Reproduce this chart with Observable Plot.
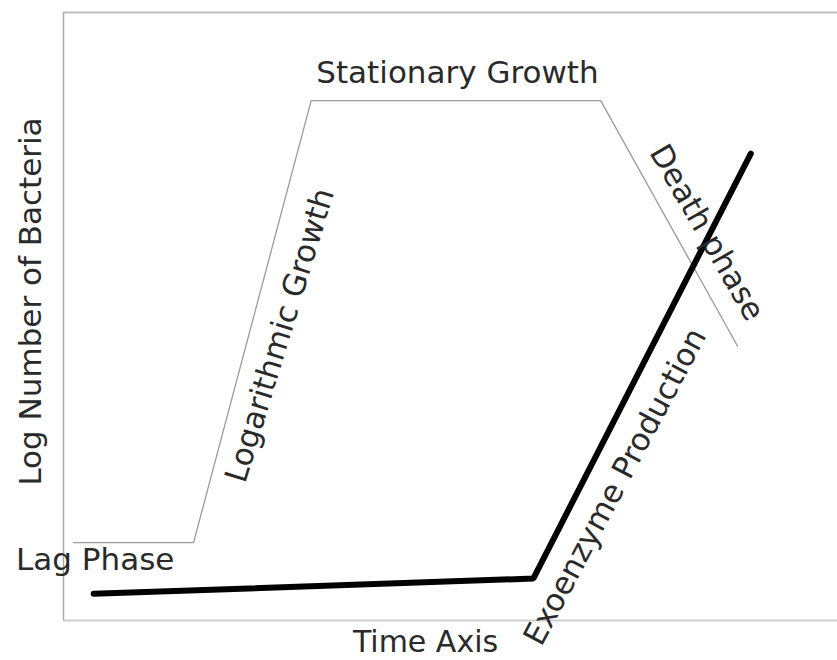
<!DOCTYPE html>
<html>
<head>
<meta charset="utf-8">
<script src="https://cdn.jsdelivr.net/npm/d3@7"></script>
<script src="https://cdn.jsdelivr.net/npm/@observablehq/plot@0.6"></script>
<style>
  html, body { margin: 0; padding: 0; background: #fff; }
  svg { display: block; overflow: visible; }
</style>
</head>
<body>
<div id="chart"></div>
<script>
// Bacterial growth curve (schematic, arbitrary units 0-100)
const growthTime = [1.3, 16.8, 32.0, 69.4, 87.1];
const growthLog  = [12.8, 12.8, 85.5, 85.5, 45.1];

// Exoenzyme production curve
const enzymeTime  = [3.9, 60.7, 88.8];
const enzymeLevel = [4.4, 6.9, 76.8];

// Phase annotations (anchored in data units)
const phaseNames = ["Lag Phase", "Logarithmic Growth", "Stationary Growth", "Death phase", "Exoenzyme Production"];
const phaseTime  = [4.1, 28.0, 50.9, 83.1, 71.3];
const phaseLog   = [9.9, 46.9, 90.0, 63.8, 22.0];

const xTitle = "Time Axis";
const yTitle = "Log Number of Bacteria";
const timeDomain = [0, 100];
const logDomain = [0, 100];

const growth = growthTime.map((t, i) => ({t, v: growthLog[i]}));
const enzyme = enzymeTime.map((t, i) => ({t, v: enzymeLevel[i]}));
const labels = phaseNames.map((name, i) => ({name, t: phaseTime[i], v: phaseLog[i]}));
const pick = (n) => labels.filter(d => d.name === n);

const textOpts = {x: "t", y: "v", text: "name", fontSize: 31, fill: "#2a2a2a", textAnchor: "middle", lineAnchor: "middle"};

const chart = Plot.plot({
  width: 837,
  height: 660,
  marginLeft: 63,
  marginRight: 0,
  marginTop: 12,
  marginBottom: 40,
  x: {domain: timeDomain, axis: null},
  y: {domain: logDomain, axis: null},
  style: {fontFamily: "DejaVu Sans", background: "#fff"},
  marks: [
    Plot.ruleY([logDomain[1]], {stroke: "#bdbdbd", strokeWidth: 2}),
    Plot.ruleY([logDomain[0]], {stroke: "#cfcfcf", strokeWidth: 2}),
    Plot.ruleX([timeDomain[0]], {stroke: "#aaaaaa", strokeWidth: 1.5}),
    Plot.line(growth, {x: "t", y: "v", stroke: "#9a9a9a", strokeWidth: 1.3}),
    Plot.line(enzyme, {x: "t", y: "v", stroke: "#000", strokeWidth: 6, strokeLinecap: "round", strokeLinejoin: "miter"}),
    Plot.text(pick("Lag Phase"), {...textOpts}),
    Plot.text(pick("Stationary Growth"), {...textOpts}),
    Plot.text(pick("Logarithmic Growth"), {...textOpts, rotate: -73}),
    Plot.text(pick("Death phase"), {...textOpts, rotate: 60}),
    Plot.text(pick("Exoenzyme Production"), {...textOpts, rotate: -62}),
    Plot.text([xTitle], {frameAnchor: "bottom", dx: -25, dy: 22, fontSize: 30, fill: "#2a2a2a", textAnchor: "middle", lineAnchor: "middle"}),
    Plot.text([yTitle], {frameAnchor: "left", dx: -32, dy: -15, rotate: -90, fontSize: 31, fill: "#2a2a2a", textAnchor: "middle", lineAnchor: "middle"})
  ]
});
document.getElementById("chart").appendChild(chart);
</script>
</body>
</html>
